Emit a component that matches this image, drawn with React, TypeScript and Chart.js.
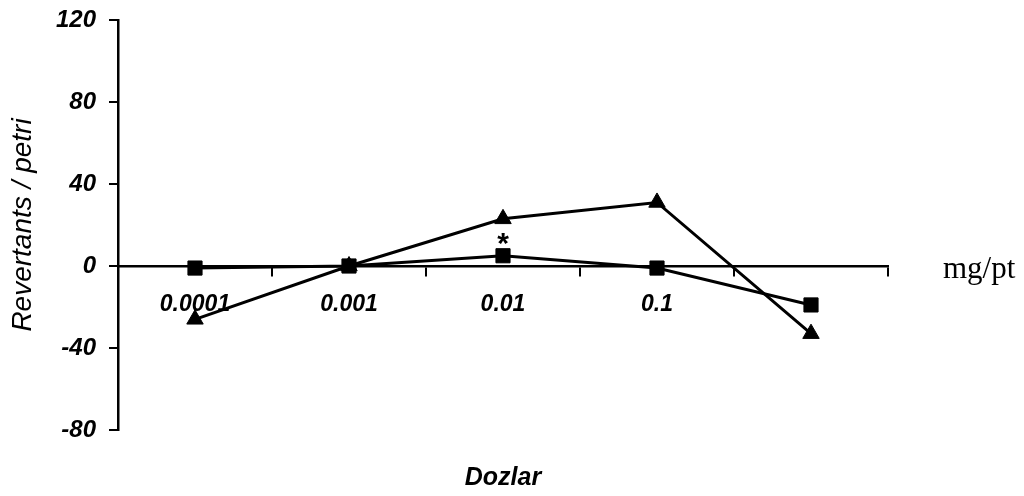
import React, { useEffect, useRef } from 'react';
import { Chart, registerables } from 'chart.js';

Chart.register(...registerables);

const doses = ['0.0001', '0.001', '0.01', '0.1', ''];
const squareSeries = [-1, 0, 5, -1, -19];
const triangleSeries = [-26, 0, 23, 31, -33];
const squareMarks = ['', '', '*', '', ''];
const yTickValues = [-80, -40, 0, 40, 80, 120];
const xUnit = 'mg/pt';
const xTitle = 'Dozlar';
const yTitle = 'Revertants / petri';

const SANS = '"Liberation Sans", Arial, sans-serif';
const SERIF = '"Liberation Serif", "Times New Roman", serif';

const extrasPlugin = {
  id: 'extras',
  afterDatasetsDraw(chart: any) {
    const { ctx, chartArea, scales } = chart;
    const y0 = scales.y.getPixelForValue(0);
    ctx.save();
    ctx.fillStyle = '#000';
    ctx.font = `31px ${SERIF}`;
    ctx.textAlign = 'left';
    ctx.textBaseline = 'alphabetic';
    ctx.fillText(xUnit, chartArea.right + 55, y0 + 12);
    ctx.font = `italic bold 25px ${SANS}`;
    ctx.textAlign = 'center';
    ctx.fillText(xTitle, (chartArea.left + chartArea.right) / 2, chartArea.bottom + 55);
    const meta = chart.getDatasetMeta(0);
    ctx.font = `bold 30px ${SANS}`;
    squareMarks.forEach((m, i) => {
      if (!m) return;
      const el = meta.data[i];
      ctx.fillText(m, el.x, el.y - 3);
    });
    ctx.restore();
  },
};

export default function App() {
  const ref = useRef<HTMLCanvasElement | null>(null);

  useEffect(() => {
    document.body.style.margin = '0';
    const canvas = ref.current;
    if (!canvas) return;
    const chart = new Chart(canvas, {
      type: 'line',
      data: {
        labels: doses,
        datasets: [
          {
            label: 'square',
            data: squareSeries,
            borderColor: '#000',
            backgroundColor: '#000',
            borderWidth: 3,
            pointStyle: 'rect',
            pointRadius: 10,
            pointBorderWidth: 1,
            pointBackgroundColor: '#000',
            pointBorderColor: '#000',
            tension: 0,
          },
          {
            label: 'triangle',
            data: triangleSeries,
            borderColor: '#000',
            backgroundColor: '#000',
            borderWidth: 3,
            pointStyle: 'triangle',
            pointRadius: 9.5,
            pointBorderWidth: 1,
            pointBackgroundColor: '#000',
            pointBorderColor: '#000',
            tension: 0,
          },
        ],
      },
      options: {
        animation: false,
        responsive: true,
        maintainAspectRatio: false,
        layout: { padding: { left: 0, right: 136, top: 20, bottom: 66 } },
        plugins: {
          legend: { display: false },
          tooltip: { enabled: false },
        },
        scales: {
          x: {
            type: 'category',
            position: { y: 0 } as any,
            offset: true,
            grid: {
              offset: true,
              drawOnChartArea: false,
              drawTicks: true,
              tickLength: 9,
              color: '#000',
              lineWidth: 2,
            },
            border: { display: true, color: '#000', width: 2.5 },
            ticks: {
              color: '#000',
              padding: 16,
              maxRotation: 0,
              autoSkip: false,
              font: { family: SANS, size: 23, style: 'italic', weight: 'bold' },
            },
          },
          y: {
            type: 'linear',
            min: -80,
            max: 120,
            afterBuildTicks: (s: any) => {
              s.ticks = yTickValues.map((v) => ({ value: v }));
            },
            afterFit: (s: any) => {
              s.width = 118;
              s.paddingTop = 0;
              s.paddingBottom = 0;
            },
            grid: {
              drawOnChartArea: false,
              drawTicks: true,
              tickLength: 9,
              color: '#000',
              lineWidth: 2,
            },
            border: { display: true, color: '#000', width: 2.5 },
            ticks: {
              color: '#000',
              padding: 13,
              font: { family: SANS, size: 24, style: 'italic', weight: 'bold' },
            },
            title: {
              display: true,
              text: yTitle,
              color: '#000',
              padding: { top: 6, bottom: 4 },
              font: { family: SANS, size: 28, style: 'italic', weight: 'normal' },
            },
          },
        },
      },
      plugins: [extrasPlugin],
    });
    return () => chart.destroy();
  }, []);

  return (
    <div style={{ position: 'absolute', left: 0, top: 0, width: 1024, height: 496 }}>
      <canvas ref={ref} />
    </div>
  );
}
